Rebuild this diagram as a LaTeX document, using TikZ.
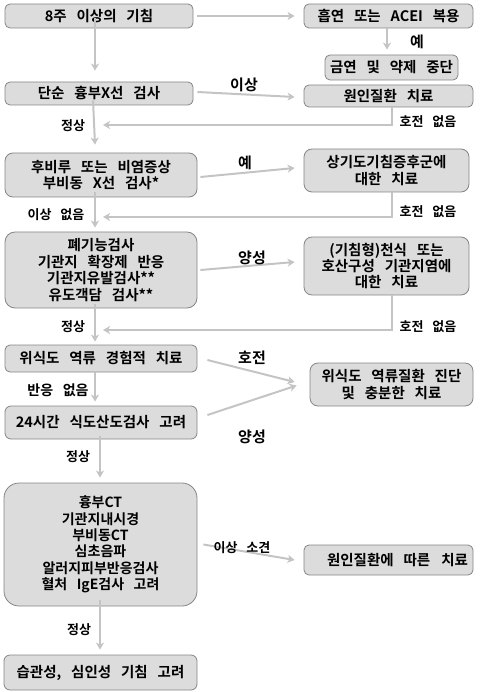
\documentclass[tikz,border=0pt]{standalone}
\usepackage{fontspec}
\setmainfont{Noto Sans CJK KR}[BoldFont={Noto Sans CJK KR Bold},WordSpace=3.0]
\usetikzlibrary{arrows.meta,positioning,calc}
\definecolor{boxfill}{HTML}{DCDCDC}
\definecolor{boxline}{HTML}{858585}
\definecolor{arrcol}{HTML}{C4C4C4}
\tikzset{
  box/.style={draw=boxline,fill=boxfill,line width=0.8pt,rounded corners=5pt,
    align=center,inner sep=0pt,font=\fontsize{14.5}{16.4}\selectfont\bfseries},
  arr/.style={draw=arrcol,line width=2pt,-{Stealth[length=7pt,width=8pt,inset=2pt]}},
  lbl/.style={font=\fontsize{13}{15}\selectfont\bfseries,inner sep=0pt},
  biglbl/.style={font=\fontsize{15}{18}\selectfont\bfseries,inner sep=0pt},
}
\begin{document}
\begin{tikzpicture}[x=1pt,y=-1pt]
\useasboundingbox (0,0) rectangle (480,692);
% boxes
\node[box,minimum width=188pt,minimum height=24pt] (b1) at (99,16) {8주 이상의 기침};
\node[box,minimum width=169pt,minimum height=24pt] (b2) at (388.5,16) {흡연 또는 ACEI 복용};
\node[box,minimum width=133pt,minimum height=25pt] (b3) at (391.5,67.5) {금연 및 약제 중단};
\node[box,minimum width=188pt,minimum height=23pt] (b4) at (99,93.5) {단순 흉부X선 검사};
\node[box,minimum width=169pt,minimum height=22pt] (b5) at (388.5,96) {원인질환 치료};
\node[box,minimum width=192pt,minimum height=44pt,rounded corners=8pt] (b6) at (101,175) {후비루 또는 비염증상\\부비동 X선 검사*};
\node[box,minimum width=165pt,minimum height=43pt,rounded corners=8pt] (b7) at (386.5,170.5) {상기도기침증후군에\\대한 치료};
\node[box,minimum width=192pt,minimum height=76pt,rounded corners=10pt] (b8) at (101,270) {폐기능검사\\기관지 확장제 반응\\기관지유발검사**\\유도객담 검사**};
\node[box,minimum width=165pt,minimum height=58pt,rounded corners=8pt] (b9) at (386.5,266) {(기침형)천식 또는\\호산구성 기관지염에\\대한 치료};
\node[box,minimum width=192pt,minimum height=27pt] (b10) at (101,358.5) {위식도 역류 경험적 치료};
\node[box,minimum width=163pt,minimum height=43pt,rounded corners=8pt] (b11) at (391.5,384.5) {위식도 역류질환 진단\\및 충분한 치료};
\node[box,minimum width=192pt,minimum height=33pt,rounded corners=6pt] (b12) at (101,422.5) {24시간 식도산도검사 고려};
\node[box,minimum width=193pt,minimum height=123pt,rounded corners=15pt,font=\fontsize{14}{16.4}\selectfont\bfseries] (b13) at (100.5,544.5) {흉부CT\\기관지내시경\\부비동CT\\심초음파\\알러지피부반응검사\\혈처 IgE검사 고려};
\node[box,minimum width=169pt,minimum height=30pt] (b14) at (388.5,560) {\hspace{18pt}원인질환에 따른\hspace{11pt}치료};
\node[box,minimum width=193pt,minimum height=35pt,rounded corners=6pt] (b15) at (100.5,672.5) {습관성, 심인성 기침 고려};
% helper coordinates
\coordinate (c1) at (392,125);
\coordinate (e1) at (103,125);
\coordinate (c2) at (392,217);
\coordinate (e2) at (103,217);
\coordinate (c3) at (392,330);
\coordinate (e3) at (103,330);
% arrows row 1
\draw[arr] ([xshift=4pt]b1.east) -- ([xshift=-9pt]b2.west);
\draw[arr] ([xshift=-4pt,yshift=10pt]b1.south) -- ([xshift=-4pt,yshift=11pt]b4.north);
\draw[arr] ([xshift=-1.5pt]b2.south) -- ([xshift=-4.5pt,yshift=5pt]b3.north);
\node[biglbl] (l1) at (417,42) {예};
% row 2
\draw[arr] ([xshift=4pt,yshift=1.5pt]b4.east) -- ([xshift=-9pt,yshift=-1pt]b5.west);
\node[biglbl] (l2) at (244,85) {이상};
\draw[arr] ([xshift=3.5pt]b5.south) -- (c1) -- (e1);
\node[lbl] (l3) at (428,122) {호전 없음};
\node[lbl] (l4) at (73,126) {정상};
\draw[arr] ([xshift=-6pt,yshift=5pt]b4.south) -- ([xshift=-6pt,yshift=8pt]b6.north);
% row 3
\draw[arr] ([xshift=3pt,yshift=-2pt]b6.east) -- ([xshift=-9pt,yshift=2.5pt]b7.west);
\node[biglbl] (l5) at (245,163) {예};
\draw[arr] ([xshift=5.5pt]b7.south) -- (c2) -- (e2);
\node[lbl] (l6) at (428,212) {호전 없음};
\node[lbl] (l7) at (56,215) {이상 없음};
\draw[arr] ([xshift=-6pt,yshift=5pt]b6.south) -- ([xshift=-6pt,yshift=4pt]b8.north);
% row 4
\draw[arr] ([xshift=3pt]b8.east) -- ([xshift=-9pt,yshift=4pt]b9.west);
\node[biglbl] (l8) at (252,258) {양성};
\draw[arr] ([xshift=5.5pt]b9.south) -- (c3) -- (e3);
\node[lbl] (l9) at (428,327) {호전 없음};
\node[lbl] (l10) at (73,327) {정상};
\draw[arr] ([xshift=-6pt,yshift=4pt]b8.south) -- ([xshift=-6pt,yshift=3pt]b10.north);
% row 5
\draw[arr] ([xshift=10pt,yshift=-1.5pt]b10.east) -- ([xshift=-15pt,yshift=2.5pt]b11.west);
\node[biglbl] (l11) at (252,358) {호전};
\draw[arr] ([xshift=-6pt]b10.south) -- ([xshift=-6pt,yshift=4pt]b12.north);
\node[lbl,font=\fontsize{14}{16}\selectfont\bfseries] (l12) at (58,390) {반응 없음};
\draw[arr] ([xshift=10pt,yshift=7.5pt]b12.east) -- ([xshift=-13pt,yshift=-1pt]b11.west);
\node[biglbl] (l13) at (252,437) {양성};
\draw[arr] ([xshift=-1pt,yshift=3pt]b12.south) -- ([xshift=-0.5pt,yshift=5pt]b13.north);
\node[lbl] (l14) at (78,457) {정상};
% row 6
\draw[arr] ([xshift=6pt]b13.east) -- ([xshift=-9pt]b14.west);
\node[lbl] (l15) at (242,548) {이상 소견};
\draw[arr] ([xshift=-0.5pt,yshift=6pt]b13.south) -- ([xshift=-0.5pt,yshift=5pt]b15.north);
\node[lbl] (l16) at (79,630) {정상};
\end{tikzpicture}
\end{document}
